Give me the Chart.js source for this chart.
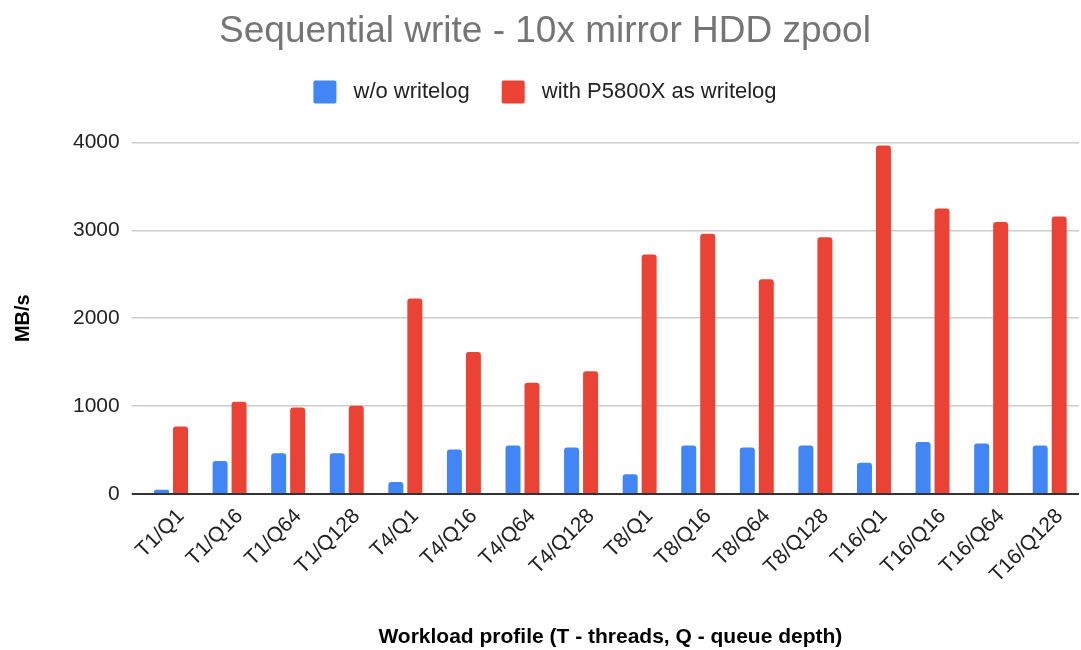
<!DOCTYPE html>
<html>
<head>
<meta charset="utf-8">
<script src="https://cdn.jsdelivr.net/npm/chart.js@4"></script>
<style>
  body { margin: 0; background: #fff; }
  #wrap { width: 1081px; height: 650px; }
</style>
</head>
<body>
<div id="wrap"><canvas id="c" width="1081" height="650"></canvas></div>
<script>
// data
const categories = ["T1/Q1", "T1/Q16", "T1/Q64", "T1/Q128",
  "T4/Q1", "T4/Q16", "T4/Q64", "T4/Q128",
  "T8/Q1", "T8/Q16", "T8/Q64", "T8/Q128",
  "T16/Q1", "T16/Q16", "T16/Q64", "T16/Q128"];
const noWritelog = [49, 374, 464, 464, 136, 506, 551, 528, 223, 551, 528, 551, 355, 592, 574, 551];
const withP5800X = [766, 1049, 985, 1004, 2223, 1615, 1264, 1396, 2725, 2962, 2442, 2921, 3966, 3249, 3094, 3158];
const yTicks = [0, 1000, 2000, 3000, 4000];

const font = "'Liberation Sans', Arial, sans-serif";

// extra room under the legend
const legendGap = {
  id: "legendGap",
  beforeInit(chart) {
    const fit = chart.legend.fit;
    chart.legend.fit = function () {
      fit.call(this);
      this.height += 29;
    };
  }
};

new Chart(document.getElementById("c"), {
  type: "bar",
  data: {
    labels: categories,
    datasets: [{
      label: "w/o writelog",
      data: noWritelog,
      backgroundColor: "#4285F4"
    }, {
      label: "with P5800X as writelog",
      data: withP5800X,
      backgroundColor: "#EA4335"
    }]
  },
  plugins: [legendGap],
  options: {
    responsive: false,
    animation: false,
    categoryPercentage: 0.648,
    barPercentage: 0.79,
    borderRadius: 3,
    layout: { padding: { left: 11, right: 2, top: 8, bottom: 0 } },
    plugins: {
      title: {
        display: true,
        text: "Sequential write - 10x mirror HDD zpool",
        color: "#757575",
        font: { family: font, size: 37, weight: "normal" },
        padding: { top: 2, bottom: -6 }
      },
      legend: {
        labels: {
          color: "#222",
          font: { family: font, size: 22 },
          boxWidth: 23,
          boxHeight: 23,
          useBorderRadius: true,
          borderRadius: 2,
          padding: 32,
          // small extra gap between swatch and text
          generateLabels: chart => Chart.defaults.plugins.legend.labels.generateLabels(chart)
            .map(item => Object.assign(item, { text: " " + item.text, lineWidth: 0 }))
        }
      },
      tooltip: { enabled: false }
    },
    scales: {
      x: {
        grid: { display: false },
        border: { display: false },
        ticks: {
          color: "#222",
          font: { family: font, size: 21 },
          maxRotation: 45,
          minRotation: 45,
          padding: 2,
          labelOffset: 10
        },
        title: {
          display: true,
          text: "Workload profile (T - threads, Q - queue depth)",
          color: "#000",
          font: { family: font, size: 21, weight: "bold" },
          padding: { top: 35, bottom: 0 }
        }
      },
      y: {
        min: 0,
        max: 4000,
        afterBuildTicks: axis => { axis.ticks = yTicks.map(v => ({ value: v })); },
        grid: {
          color: ctx => ctx.tick && ctx.tick.value === 0 ? "#333" : "#cccccc",
          lineWidth: ctx => ctx.tick && ctx.tick.value === 0 ? 2 : 1.5,
          tickLength: 10
        },
        border: { display: false },
        ticks: {
          color: "#222",
          font: { family: font, size: 21 },
          padding: 12,
          callback: v => String(v)
        },
        title: {
          display: true,
          text: "MB/s",
          color: "#000",
          font: { family: font, size: 20, weight: "bold" },
          padding: { top: 0, bottom: 26 }
        }
      }
    }
  }
});
</script>
</body>
</html>
